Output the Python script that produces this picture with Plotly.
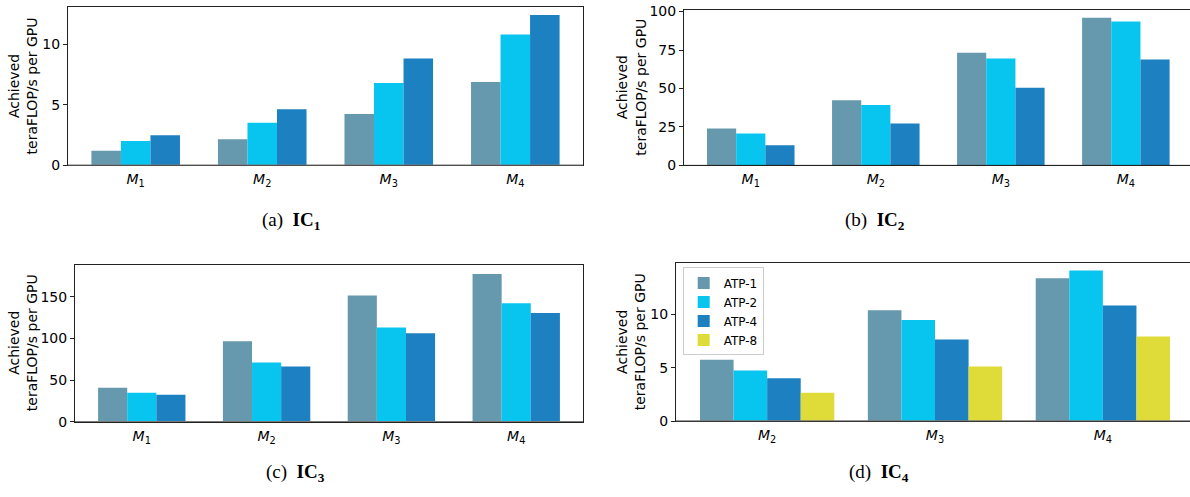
import plotly.graph_objects as go

W, H = 1190, 497

# categories
models_abc = ["1", "2", "3", "4"]
models_d = ["2", "3", "4"]
series_names = ["ATP-1", "ATP-2", "ATP-4", "ATP-8"]
series_colors = ["#6699ae", "#08c5f0", "#1c80c1", "#dfdc3a"]

# achieved teraFLOP/s per GPU
ic1_atp1 = [1.20, 2.17, 4.25, 6.90]
ic1_atp2 = [2.01, 3.53, 6.82, 10.83]
ic1_atp4 = [2.49, 4.65, 8.83, 12.44]

ic2_atp1 = [24.0, 42.3, 73.3, 96.0]
ic2_atp2 = [20.7, 39.2, 69.5, 93.5]
ic2_atp4 = [13.1, 27.2, 50.5, 68.9]

ic3_atp1 = [40.8, 96.7, 151.5, 177.2]
ic3_atp2 = [35.0, 71.1, 113.1, 142.2]
ic3_atp4 = [32.6, 66.4, 106.1, 130.5]

ic4_atp1 = [5.73, 10.36, 13.35]
ic4_atp2 = [4.74, 9.45, 14.07]
ic4_atp4 = [4.02, 7.64, 10.81]
ic4_atp8 = [2.66, 5.10, 7.91]

# panel layout in pixels: (left, top, right, bottom)
panels = [
    dict(models=models_abc, series=[ic1_atp1, ic1_atp2, ic1_atp4], box=(68, 1.5, 583, 164),
         xr=[-0.535, 3.535], yr=[0, 13.06], dtick=5, caption="(a)&nbsp; <b>IC<sub>1</sub></b>",
         cap=(291, 221), ytitle_x=23, right_line=True, base_gray=True),
    dict(models=models_abc, series=[ic2_atp1, ic2_atp2, ic2_atp4], box=(684, 4, 1190, 164),
         xr=[-0.534, 3.513], yr=[0, 101.1], dtick=25, caption="(b)&nbsp; <b>IC<sub>2</sub></b>",
         cap=(875, 221), ytitle_x=631, right_line=False, base_gray=False),
    dict(models=models_abc, series=[ic3_atp1, ic3_atp2, ic3_atp4], box=(75, 266, 583, 428),
         xr=[-0.535, 3.535], yr=[0, 188.5], dtick=50, caption="(c)&nbsp; <b>IC<sub>3</sub></b>",
         cap=(295, 481), ytitle_x=23, right_line=True, base_gray=True),
    dict(models=models_d, series=[ic4_atp1, ic4_atp2, ic4_atp4, ic4_atp8], box=(676, 264.7, 1190, 427.3),
         xr=[-0.543, 2.519], yr=[0, 14.75], dtick=5, caption="(d)&nbsp; <b>IC<sub>4</sub></b>",
         cap=(879, 481), ytitle_x=631, right_line=False, base_gray=True),
]

TICK_FONT = dict(family="DejaVu Sans", size=14, color="black")

fig = go.Figure()
layout = dict(
    width=W, height=H, margin=dict(l=0, r=0, t=0, b=0),
    paper_bgcolor="white", plot_bgcolor="white",
    barmode="overlay", showlegend=True,
    font=dict(family="DejaVu Sans", size=14, color="black"),
)
annotations = []
shapes = []

for k, p in enumerate(panels, start=1):
    sfx = "" if k == 1 else str(k)
    xa, ya = "x" + sfx, "y" + sfx
    n = len(p["series"])
    total = 0.7 if n == 3 else 0.8
    w = total / n
    pos = list(range(len(p["models"])))
    for i, vals in enumerate(p["series"]):
        fig.add_trace(go.Bar(
            x=pos, y=vals, width=w, offset=-total / 2 + i * w,
            marker=dict(color=series_colors[i], line=dict(width=0)),
            name=series_names[i], xaxis=xa, yaxis=ya,
            showlegend=(k == 4), legendgroup=series_names[i],
        ))
    l, t, r, b = p["box"]
    layout["xaxis" + sfx] = dict(
        domain=[l / W, r / W], range=p["xr"], anchor=ya,
        tickmode="array", tickvals=pos,
        ticktext=["<i>M</i><sub>%s</sub>" % m for m in p["models"]],
        ticks="", showgrid=False, zeroline=False, ticklabelstandoff=1,
        showline=True, mirror=True, linecolor="#222222", linewidth=1,
        tickfont=TICK_FONT, ticklabeloverflow="allow",
    )
    layout["yaxis" + sfx] = dict(
        domain=[1 - b / H, 1 - t / H], range=p["yr"], anchor=xa,
        dtick=p["dtick"], tick0=0, ticks="outside", ticklen=4, tickwidth=1, tickcolor="#222222",
        showgrid=False, zeroline=False, ticklabeloverflow="allow",
        showline=True, mirror=p["right_line"], linecolor="#222222", linewidth=1,
        tickfont=TICK_FONT,
    )
    # baseline at zero
    shapes.append(dict(
        type="line", xref=xa + " domain", yref=ya, x0=0, x1=1, y0=0, y1=0,
        line=dict(color="#7a7a7a" if p["base_gray"] else "#222222", width=2 if p["base_gray"] else 1),
        layer="above",
    ))
    annotations.append(dict(
        text="Achieved<br>teraFLOP/s per GPU", textangle=-90,
        xref="paper", yref="paper", x=p["ytitle_x"] / W, y=1 - (t + b) / 2 / H,
        xanchor="center", yanchor="middle", showarrow=False,
        font=dict(family="DejaVu Sans", size=14, color="black"),
    ))
    cx, cy = p["cap"]
    annotations.append(dict(
        text=p["caption"], xref="paper", yref="paper", x=cx / W, y=1 - cy / H,
        xanchor="center", yanchor="middle", showarrow=False,
        font=dict(family="Liberation Serif", size=19, color="black"),
    ))

layout["annotations"] = annotations
layout["shapes"] = shapes
layout["legend"] = dict(
    x=682.7 / W, y=1 - 269 / H, xanchor="left", yanchor="top",
    bgcolor="rgba(255,255,255,0.85)", bordercolor="#cccccc", borderwidth=1,
    font=dict(family="DejaVu Sans", size=12, color="black"),
    tracegroupgap=0, itemwidth=30,
)
fig.update_layout(**layout)

fig.write_html("out.html")
